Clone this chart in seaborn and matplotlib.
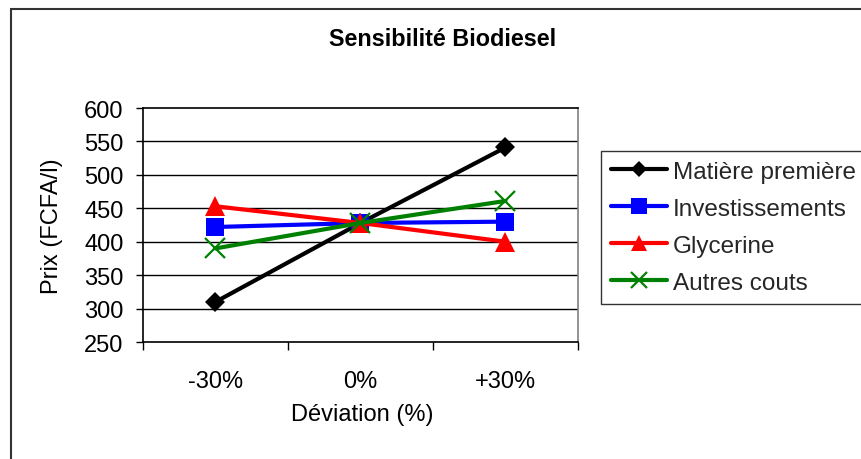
import matplotlib
matplotlib.use("Agg")
import matplotlib.pyplot as plt
import seaborn as sns
import pandas as pd
from matplotlib.patches import Rectangle

categories = ["-30%", "0%", "+30%"]
matiere = [310, 428, 541]
invest = [422, 428, 430]
glycerine = [453, 428, 400]
autres = [390, 428, 461]
series_names = ["Matière première", "Investissements", "Glycerine", "Autres couts"]

sns.set_theme(style="white")
plt.rcParams['font.family'] = ['Liberation Sans', 'DejaVu Sans']

W, H = 861, 460
fig = plt.figure(figsize=(W / 100, H / 100), dpi=100)
ax = fig.add_axes([143 / W, 1 - 343 / H, (578 - 143) / W, (343 - 109) / H])

xpos = list(range(len(categories)))
styles = [
    (matiere, "black", "D", 10.0),
    (invest, "#0000ff", "s", 13.5),
    (glycerine, "#ff0000", "^", 14.0),
    (autres, "#008000", "x", 14.0),
]
for (vals, col, mk, ms), name in zip(styles, series_names):
    df = pd.DataFrame({"x": xpos, "y": vals})
    sns.lineplot(data=df, x="x", y="y", ax=ax, color=col, linewidth=3.0,
                 marker=mk, markersize=ms, markeredgewidth=1.6 if mk == "x" else 0,
                 markeredgecolor=col, markerfacecolor=col, label=name, legend=False)

ax.set_xlim(-0.5, len(categories) - 0.5)
ax.set_ylim(250, 600)
ax.set_yticks(range(250, 601, 50))
for yv in range(300, 600, 50):
    ax.axhline(yv, color="black", linewidth=1.0, zorder=0)

ax.set_xticks([i - 0.5 for i in range(len(categories) + 1)])
ax.set_xticklabels([])
ax.set_xticks(xpos, minor=True)
ax.set_xticklabels(categories, minor=True)
ax.tick_params(axis="x", which="major", direction="out", length=6, width=1, color="black", bottom=True)
ax.tick_params(axis="x", which="minor", length=0, pad=20, labelsize=17, labelcolor="black")
ax.tick_params(axis="y", direction="out", length=5, width=1, color="black", left=True, labelsize=17,
               labelcolor="black", pad=9)

for s in ["left", "bottom", "top"]:
    ax.spines[s].set_color("black")
    ax.spines[s].set_linewidth(1.2)
ax.spines["right"].set_color("#808080")
ax.spines["right"].set_linewidth(1.2)
ax.set_xlabel("")
ax.set_ylabel("")

fig.text(443 / W, 1 - 40 / H, "Sensibilité Biodiesel", ha="center", va="center",
         fontsize=16.8, fontweight="bold", color="black")
fig.text(362 / W, 1 - 415 / H, "Déviation (%)", ha="center", va="center", fontsize=17, color="black")
fig.text(52 / W, 1 - 226 / H, "Prix (FCFA/l)", ha="center", va="center", rotation=90,
         fontsize=17, color="black")

h, l = ax.get_legend_handles_labels()
leg = fig.legend(h, l, loc="upper left", bbox_to_anchor=(601 / W, 1 - 152 / H),
                 frameon=True, fontsize=17.5, handlelength=2.3, handletextpad=0.25,
                 labelspacing=0.62, borderpad=0.4, borderaxespad=0, fancybox=False,
                 markerscale=0.85)
leg.get_frame().set_edgecolor("black")
leg.get_frame().set_linewidth(1.0)

fig.add_artist(Rectangle((11 / W, -0.1), 1.2, 1 - 10 / H + 0.1, transform=fig.transFigure,
                         fill=False, edgecolor="#333333", linewidth=1.5, clip_on=False))

fig.savefig("out.png", dpi=100, facecolor="white")
